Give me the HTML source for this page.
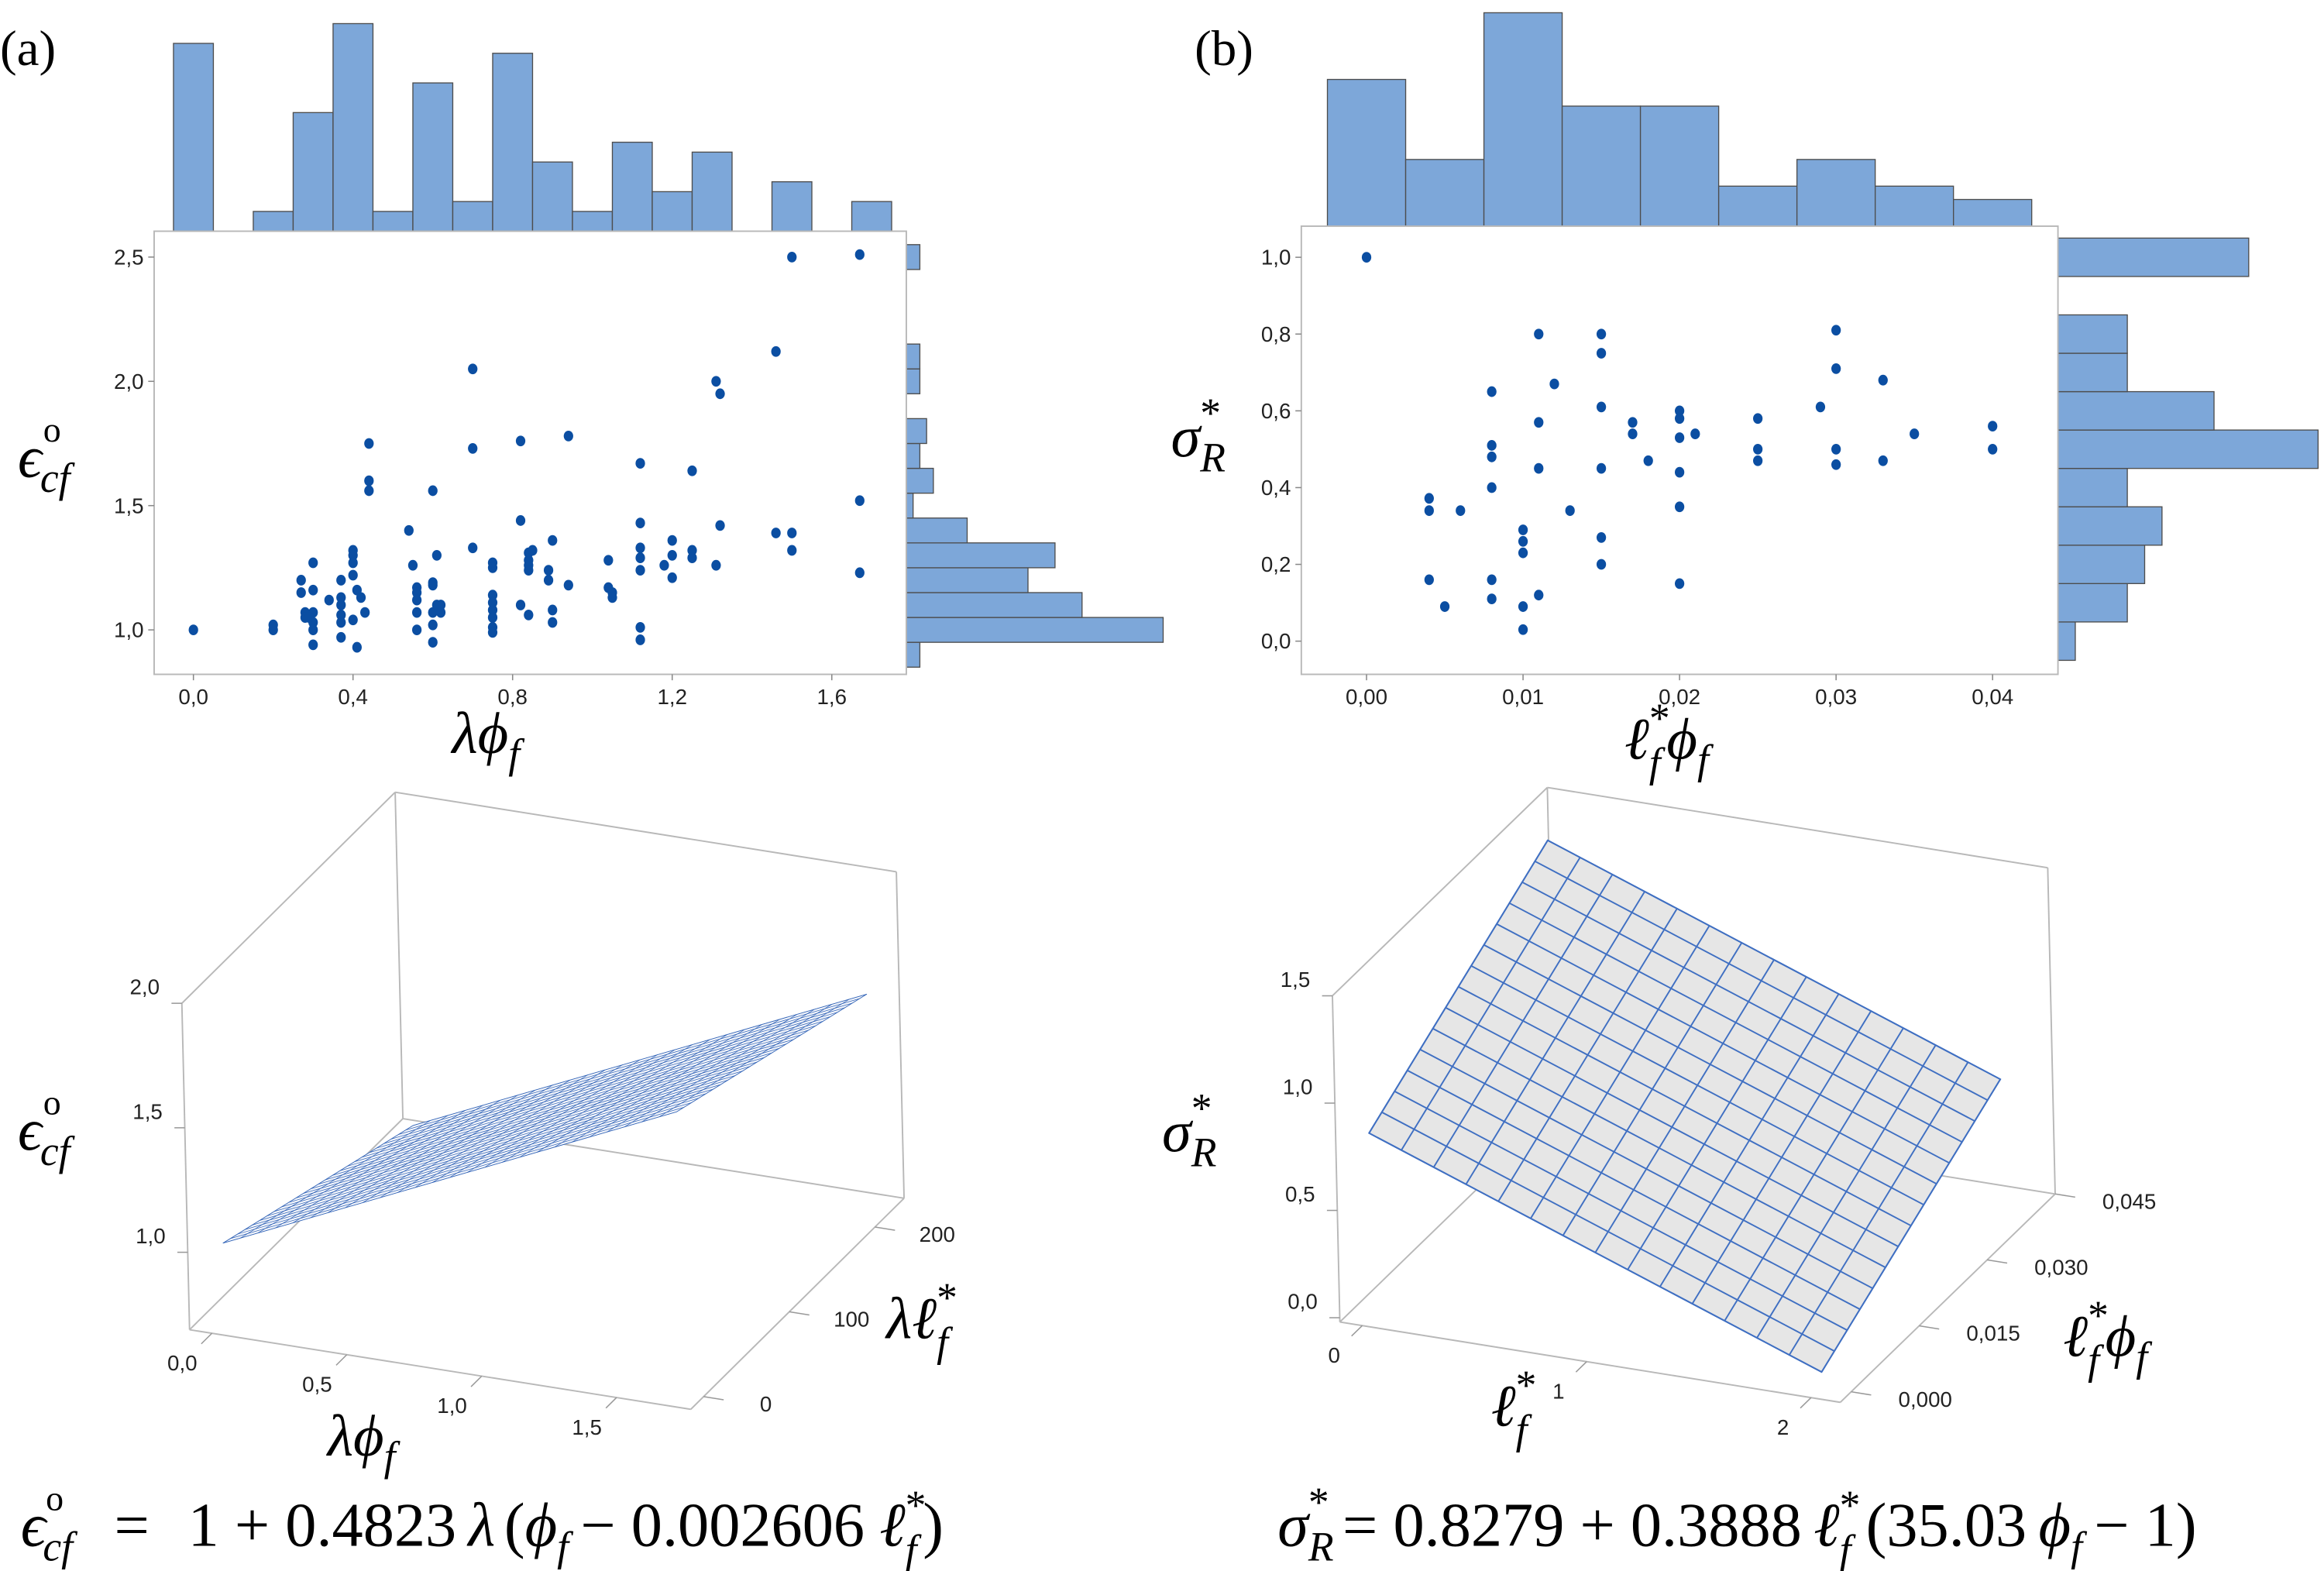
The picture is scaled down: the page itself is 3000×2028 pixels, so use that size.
<!DOCTYPE html>
<html><head><meta charset="utf-8"><style>
html,body{margin:0;padding:0;background:#fff;}
svg{display:block;}
.tk{font-family:"Liberation Sans",sans-serif;font-size:14.5px;fill:#222;}
.m{font-family:"Liberation Serif","DejaVu Serif",serif;font-style:italic;fill:#000;}
.n{font-family:"Liberation Serif","DejaVu Serif",serif;fill:#000;}
</style></head><body>
<svg id="fig" xmlns="http://www.w3.org/2000/svg" width="3000" height="2028" viewBox="0 0 1568 1060" preserveAspectRatio="none">
<rect x="0" y="0" width="1568" height="1060" fill="#fff"/>
<text class="n" font-family="Liberation Serif, serif" x="0" y="44" font-size="34">(a)</text>
<text class="n" font-family="Liberation Serif, serif" x="806" y="44" font-size="34">(b)</text>
<g id="gA"></g>
<g id="gB"></g>
<g id="g3A"></g>
<g id="g3B"></g>
<g font-family="Liberation Serif, DejaVu Serif, serif">
<text class="m" x="12" y="322" font-size="40">ϵ<tspan class="n" font-style="normal" font-size="24" dx="1" dy="-24">o</tspan><tspan font-size="28" dx="-14" dy="34">cf</tspan></text>
<text class="m" x="305" y="508" font-size="40">λϕ<tspan font-size="28" dy="10">f</tspan></text>
<text class="m" x="790" y="308" font-size="40">σ<tspan class="n" font-style="normal" font-size="28" dx="0" dy="-20">*</tspan><tspan font-size="28" dx="-14" dy="30">R</tspan></text>
<text class="m" x="1096" y="512" font-size="40">ℓ<tspan class="n" font-style="normal" font-size="28" dy="-18">*</tspan><tspan font-size="28" dx="-14" dy="30">f</tspan><tspan dx="4" dy="-12">ϕ</tspan><tspan font-size="28" dy="10">f</tspan></text>
<text class="m" x="12" y="776" font-size="40">ϵ<tspan class="n" font-style="normal" font-size="24" dx="1" dy="-24">o</tspan><tspan font-size="28" dx="-14" dy="34">cf</tspan></text>
<text class="m" x="221" y="982" font-size="40">λϕ<tspan font-size="28" dy="10">f</tspan></text>
<text class="m" x="598" y="903" font-size="40">λℓ<tspan class="n" font-style="normal" font-size="28" dy="-18">*</tspan><tspan font-size="28" dx="-14" dy="30">f</tspan></text>
<text class="m" x="784" y="777" font-size="40">σ<tspan class="n" font-style="normal" font-size="28" dy="-20">*</tspan><tspan font-size="28" dx="-14" dy="30">R</tspan></text>
<text class="m" x="1006" y="962" font-size="40">ℓ<tspan class="n" font-style="normal" font-size="28" dy="-18">*</tspan><tspan font-size="28" dx="-14" dy="30">f</tspan></text>
<text class="m" x="1392" y="915" font-size="40">ℓ<tspan class="n" font-style="normal" font-size="28" dy="-18">*</tspan><tspan font-size="28" dx="-14" dy="30">f</tspan><tspan dx="4" dy="-12">ϕ</tspan><tspan font-size="28" dy="10">f</tspan></text>
<text class="m" x="14" y="1043" font-size="42">ϵ<tspan class="n" font-style="normal" font-size="24" dy="-24">o</tspan><tspan font-size="28" dx="-14" dy="34">cf</tspan><tspan class="n" font-style="normal" dx="28" dy="-10">=</tspan><tspan class="n" font-style="normal" dx="26">1 + 0.4823</tspan><tspan dx="8">λ</tspan><tspan class="n" font-style="normal" dx="6">(</tspan><tspan>ϕ</tspan><tspan font-size="28" dy="10">f</tspan><tspan class="n" font-style="normal" dx="8" dy="-10">− 0.002606</tspan><tspan dx="10">ℓ</tspan><tspan class="n" font-style="normal" font-size="28" dy="-18">*</tspan><tspan font-size="28" dx="-14" dy="30">f</tspan><tspan class="n" font-style="normal" dx="4" dy="-12">)</tspan></text>
<text class="m" x="862" y="1043" font-size="42">σ<tspan class="n" font-style="normal" font-size="28" dy="-20">*</tspan><tspan font-size="28" dx="-14" dy="30">R</tspan><tspan class="n" font-style="normal" dx="6" dy="-10">= 0.8279 + 0.3888</tspan><tspan dx="8">ℓ</tspan><tspan class="n" font-style="normal" font-size="28" dy="-18">*</tspan><tspan font-size="28" dx="-14" dy="30">f</tspan><tspan class="n" font-style="normal" dx="10" dy="-12">(35.03</tspan><tspan dx="8">ϕ</tspan><tspan font-size="28" dy="10">f</tspan><tspan class="n" font-style="normal" dx="8" dy="-10">− 1)</tspan></text>
</g>
</svg>
<script>
// ===== Panel (a) data =====
const aTopBins=[0,0.1,0.2,0.3,0.4,0.5,0.6,0.7,0.8,0.9,1.0,1.1,1.2,1.3,1.4,1.5,1.6,1.7];
const aTopCounts=[19,0,2,12,21,2,15,3,18,7,2,9,4,8,0,5,0,3];
const aRightBins=[0.9,1.0,1.1,1.2,1.3,1.4,1.5,1.6,1.7,1.8,1.9,2.0,2.1,2.2,2.3,2.4,2.5];
const aRightCounts=[2,38,26,18,22,9,1,4,2,3,0,2,2,0,0,0,2];
const aX=[0,0.2,0.2,0.27,0.27,0.28,0.28,0.3,0.3,0.3,0.3,0.3,0.3,0.29,0.34,0.37,0.37,0.37,0.37,0.37,0.37,0.4,0.4,0.4,0.4,0.4,0.41,0.42,0.41,0.43,0.44,0.44,0.44,0.54,0.55,0.56,0.56,0.56,0.56,0.56,0.6,0.61,0.6,0.6,0.6,0.61,0.6,0.6,0.62,0.62,0.7,0.7,0.7,0.75,0.75,0.75,0.75,0.75,0.75,0.75,0.75,0.82,0.82,0.82,0.84,0.84,0.84,0.84,0.84,0.85,0.9,0.89,0.89,0.9,0.9,0.94,0.94,1.04,1.04,1.05,1.05,1.12,1.12,1.12,1.12,1.12,1.12,1.12,1.18,1.2,1.2,1.2,1.25,1.25,1.25,1.31,1.32,1.32,1.31,1.46,1.46,1.5,1.5,1.5,1.67,1.67,1.67];
const aY=[1.0,1.0,1.02,1.2,1.15,1.07,1.05,1.27,1.16,1.07,1.03,1.0,0.94,1.05,1.12,1.2,1.13,1.1,1.06,1.03,0.97,1.32,1.3,1.27,1.22,1.04,1.16,1.13,0.93,1.07,1.75,1.6,1.56,1.4,1.26,1.17,1.15,1.12,1.07,1.0,1.56,1.3,1.19,1.18,1.07,1.1,1.02,0.95,1.07,1.1,2.05,1.73,1.33,1.27,1.25,1.14,1.11,1.08,1.05,1.01,0.99,1.76,1.44,1.1,1.31,1.28,1.26,1.24,1.06,1.32,1.36,1.24,1.2,1.08,1.03,1.78,1.18,1.28,1.17,1.15,1.13,1.67,1.43,1.33,1.29,1.24,1.01,0.96,1.26,1.36,1.3,1.21,1.64,1.32,1.29,2.0,1.95,1.42,1.26,2.12,1.39,2.5,1.39,1.32,2.51,1.52,1.23];
const aXTicks=[0,0.4,0.8,1.2,1.6];
const aXTickLabels=["0,0","0,4","0,8","1,2","1,6"];
const aYTicks=[1.0,1.5,2.0,2.5];
const aYTickLabels=["1,0","1,5","2,0","2,5"];
// ===== Panel (b) data =====
const bTopBins=[0,0.005,0.01,0.015,0.02,0.025,0.03,0.035,0.04];
const bTopCounts=[11,5,16,9,9,3,5,3,2];
const bRightBins=[0,0.1,0.2,0.3,0.4,0.5,0.6,0.7,0.8,0.9,1.0];
const bRightCounts=[1,4,5,6,4,15,9,4,4,0,11];
const bX=[0,0.004,0.004,0.004,0.005,0.006,0.008,0.008,0.008,0.008,0.008,0.008,0.01,0.01,0.01,0.01,0.01,0.011,0.011,0.011,0.011,0.012,0.013,0.015,0.015,0.015,0.015,0.015,0.015,0.017,0.017,0.018,0.02,0.02,0.02,0.02,0.02,0.02,0.021,0.025,0.025,0.025,0.029,0.03,0.03,0.03,0.03,0.033,0.033,0.035,0.04,0.04];
const bY=[1.0,0.372,0.34,0.16,0.09,0.34,0.65,0.51,0.48,0.40,0.16,0.11,0.29,0.26,0.23,0.09,0.03,0.80,0.57,0.45,0.12,0.67,0.34,0.80,0.75,0.61,0.45,0.27,0.20,0.57,0.54,0.47,0.60,0.58,0.53,0.44,0.35,0.15,0.54,0.58,0.50,0.47,0.61,0.81,0.71,0.50,0.46,0.68,0.47,0.54,0.56,0.50];
const bXTicks=[0,0.01,0.02,0.03,0.04];
const bXTickLabels=["0,00","0,01","0,02","0,03","0,04"];
const bYTicks=[0,0.2,0.4,0.6,0.8,1.0];
const bYTickLabels=["0,0","0,2","0,4","0,6","0,8","1,0"];
// ===== 3D surfaces =====
const sA_coef=[1,0.4823,0.002606];      // z = c0 + c1*(x - c2*y)
const sA_xTicks=[0,0.5,1.0,1.5];
const sA_xTickLabels=["0,0","0,5","1,0","1,5"];
const sA_yTicks=[0,100,200];
const sA_yTickLabels=["0","100","200"];
const sA_zTicks=[1.0,1.5,2.0];
const sA_zTickLabels=["1,0","1,5","2,0"];
const sA_domain=[0,1.7,0,220];
const sB_coef=[0.8279,0.3888,35.03];    // z = c0 + c1*(c2*y - x)
const sB_xTicks=[0,1,2];
const sB_xTickLabels=["0","1","2"];
const sB_yTicks=[0,0.015,0.03,0.045];
const sB_yTickLabels=["0,000","0,015","0,030","0,045"];
const sB_zTicks=[0,0.5,1.0,1.5];
const sB_zTickLabels=["0,0","0,5","1,0","1,5"];
const sB_domain=[0,2,0,0.04];

const NS="http://www.w3.org/2000/svg";
function mk(parent,tag,attrs){const e=document.createElementNS(NS,tag);for(const k in attrs)e.setAttribute(k,attrs[k]);parent.appendChild(e);return e;}
const HF="#7da7d9",HS="#4d4d4d",DOT="#0b4ea2",BOX="#b8b8b8";

function scatterPanel(g,cfg){
  const {sx,sy,box,top,right,X,Y,xt,xtl,yt,ytl}=cfg;
  top.bins.forEach((b,i)=>{
    const h=top.counts[i]*top.unit, x0=sx(b-top.w/2), x1=sx(b+top.w/2);
    const r=mk(g,'rect',{x:x0,y:box.y0-h,width:x1-x0,height:h,fill:HF,stroke:HS,'stroke-width':0.7});
    
    
  });
  right.bins.forEach((b,i)=>{
    const w=right.counts[i]*right.unit, y0=sy(b+right.w/2), y1=sy(b-right.w/2);
    const r=mk(g,'rect',{x:box.x1,y:y0,width:w,height:y1-y0,fill:HF,stroke:HS,'stroke-width':0.7});
    
    
  });
  const bx=mk(g,'rect',{x:box.x0,y:box.y0,width:box.x1-box.x0,height:box.y1-box.y0,fill:'#fff',stroke:BOX,'stroke-width':1});
  
  
  xt.forEach((t,i)=>{
    const x=sx(t);
    mk(g,'line',{x1:x,y1:box.y1,x2:x,y2:box.y1+4,stroke:'#888','stroke-width':0.8});
    const tx=mk(g,'text',{x:x,y:box.y1+20,'text-anchor':'middle',class:'tk'});tx.textContent=xtl[i];
    
    
  });
  yt.forEach((t,i)=>{
    const y=sy(t);
    mk(g,'line',{x1:box.x0-4,y1:y,x2:box.x0,y2:y,stroke:'#888','stroke-width':0.8});
    const tx=mk(g,'text',{x:box.x0-7,y:y+5,'text-anchor':'end',class:'tk'});tx.textContent=ytl[i];
    
    
  });
  X.forEach((v,i)=>{
    const c=mk(g,'ellipse',{cx:sx(v),cy:sy(Y[i]),rx:3.2,ry:3.6,fill:DOT});
    
    
  });
}
scatterPanel(document.getElementById('gA'),{
  sx:v=>130.5+v*269.2, sy:v=>425-(v-1)*167.7,
  box:{x0:104,x1:611.5,y0:156,y1:455},
  top:{bins:aTopBins,counts:aTopCounts,unit:6.67,w:0.1},
  right:{bins:aRightBins,counts:aRightCounts,unit:4.56,w:0.1},
  X:aX,Y:aY,xt:aXTicks,xtl:aXTickLabels,yt:aYTicks,ytl:aYTickLabels});
scatterPanel(document.getElementById('gB'),{
  sx:v=>922+v*10560, sy:v=>432.6-v*259,
  box:{x0:878,x1:1388.5,y0:152.6,y1:455},
  top:{bins:bTopBins,counts:bTopCounts,unit:9.0,w:0.005},
  right:{bins:bRightBins,counts:bRightCounts,unit:11.7,w:0.1},
  X:bX,Y:bY,xt:bXTicks,xtl:bXTickLabels,yt:bYTicks,ytl:bYTickLabels});

function surface3d(g,cfg){
  const {C0,mn,mx,ex,ey,ez,zf,dom,n,fill,stroke,sw}=cfg;
  const P=(x,y,z)=>[C0[0]+(x-mn[0])*ex[0]+(y-mn[1])*ey[0]+(z-mn[2])*ez[0],
                    C0[1]+(x-mn[0])*ex[1]+(y-mn[1])*ey[1]+(z-mn[2])*ez[1]];
  const L=(a,b,name)=>{const l=mk(g,'line',{x1:a[0],y1:a[1],x2:b[0],y2:b[1],stroke:BOX,'stroke-width':1});
    
    };
  const [x0,y0,z0]=mn,[x1,y1,z1]=mx;
  L(P(x0,y0,z0),P(x1,y0,z0),'box-edge');L(P(x1,y0,z0),P(x1,y1,z0),'box-edge');
  L(P(x0,y0,z0),P(x0,y1,z0),'box-edge');L(P(x0,y1,z0),P(x1,y1,z0),'box-edge');
  L(P(x0,y0,z0),P(x0,y0,z1),'box-edge');L(P(x0,y1,z0),P(x0,y1,z1),'box-edge');
  L(P(x1,y1,z0),P(x1,y1,z1),'box-edge');L(P(x0,y0,z1),P(x0,y1,z1),'box-edge');
  L(P(x0,y1,z1),P(x1,y1,z1),'box-edge');
  cfg.zt.forEach((t,i)=>{const p=P(x0,y0,t);
    mk(g,'line',{x1:p[0]-7,y1:p[1],x2:p[0],y2:p[1],stroke:'#999','stroke-width':0.8});
    const tx=mk(g,'text',{x:p[0]-15,y:p[1]-6,'text-anchor':'end',class:'tk'});tx.textContent=cfg.ztl[i];
    
    });
  cfg.xt.forEach((t,i)=>{const p=P(t,y0,z0);const q=P(t,y0-(y1-y0)*0.05,z0);
    mk(g,'line',{x1:p[0],y1:p[1],x2:q[0],y2:q[1],stroke:'#999','stroke-width':0.8});
    const tx=mk(g,'text',{x:p[0]+cfg.xo[0],y:p[1]+cfg.xo[1],'text-anchor':'middle',class:'tk'});tx.textContent=cfg.xtl[i];
    
    });
  cfg.yt.forEach((t,i)=>{const p=P(x1,t,z0);const q=P(x1+(x1-x0)*0.04,t,z0);
    mk(g,'line',{x1:p[0],y1:p[1],x2:q[0],y2:q[1],stroke:'#999','stroke-width':0.8});
    const tx=mk(g,'text',{x:p[0]+cfg.yo[0],y:p[1]+cfg.yo[1],'text-anchor':'middle',class:'tk'});tx.textContent=cfg.ytl[i];
    
    });
  const [ax,bx,ay,by]=dom;
  const S=(x,y)=>P(x,y,zf(x,y));
  const corners=[S(ax,ay),S(bx,ay),S(bx,by),S(ax,by)];
  const poly=mk(g,'polygon',{points:corners.map(p=>p.join(',')).join(' '),fill:fill,stroke:stroke,'stroke-width':sw});
  
  
  for(let i=0;i<=n;i++){
    const x=ax+(bx-ax)*i/n, a=S(x,ay), b=S(x,by);
    const l=mk(g,'line',{x1:a[0],y1:a[1],x2:b[0],y2:b[1],stroke:stroke,'stroke-width':sw});
    
    
    const y=ay+(by-ay)*i/n, c=S(ax,y), d=S(bx,y);
    const l2=mk(g,'line',{x1:c[0],y1:c[1],x2:d[0],y2:d[1],stroke:stroke,'stroke-width':sw});
    
    
  }
}
surface3d(document.getElementById('g3A'),{
  C0:[127.9,897.2],mn:[-0.083,-15,0.689],mx:[1.775,234,2.0],
  ex:[182,28.9],ey:[0.578,-0.572],ez:[-3.97,-168],
  zf:(x,y)=>sA_coef[0]+sA_coef[1]*(x-sA_coef[2]*y),
  dom:sA_domain,n:26,fill:'#f4f6fb',stroke:'#3566b8',sw:0.4,
  xt:sA_xTicks,xtl:sA_xTickLabels,xo:[-20,25],
  yt:sA_yTicks,ytl:sA_yTickLabels,yo:[42,10],
  zt:sA_zTicks,ztl:sA_zTickLabels});
surface3d(document.getElementById('g3B'),{
  C0:[904,892],mn:[-0.1,-0.0024,-0.02],mx:[2.13,0.045,1.5],
  ex:[151.4,24.3],ey:[3059,-2966],ez:[-3.3,-144.8],
  zf:(x,y)=>sB_coef[0]+sB_coef[1]*(sB_coef[2]*y-x),
  dom:sB_domain,n:14,fill:'#e6e6e6',stroke:'#3f6fc2',sw:1,
  xt:sB_xTicks,xtl:sB_xTickLabels,xo:[-19,25],
  yt:sB_yTicks,ytl:sB_yTickLabels,yo:[50,10],
  zt:sB_zTicks,ztl:sB_zTickLabels});
</script>
</body></html>
